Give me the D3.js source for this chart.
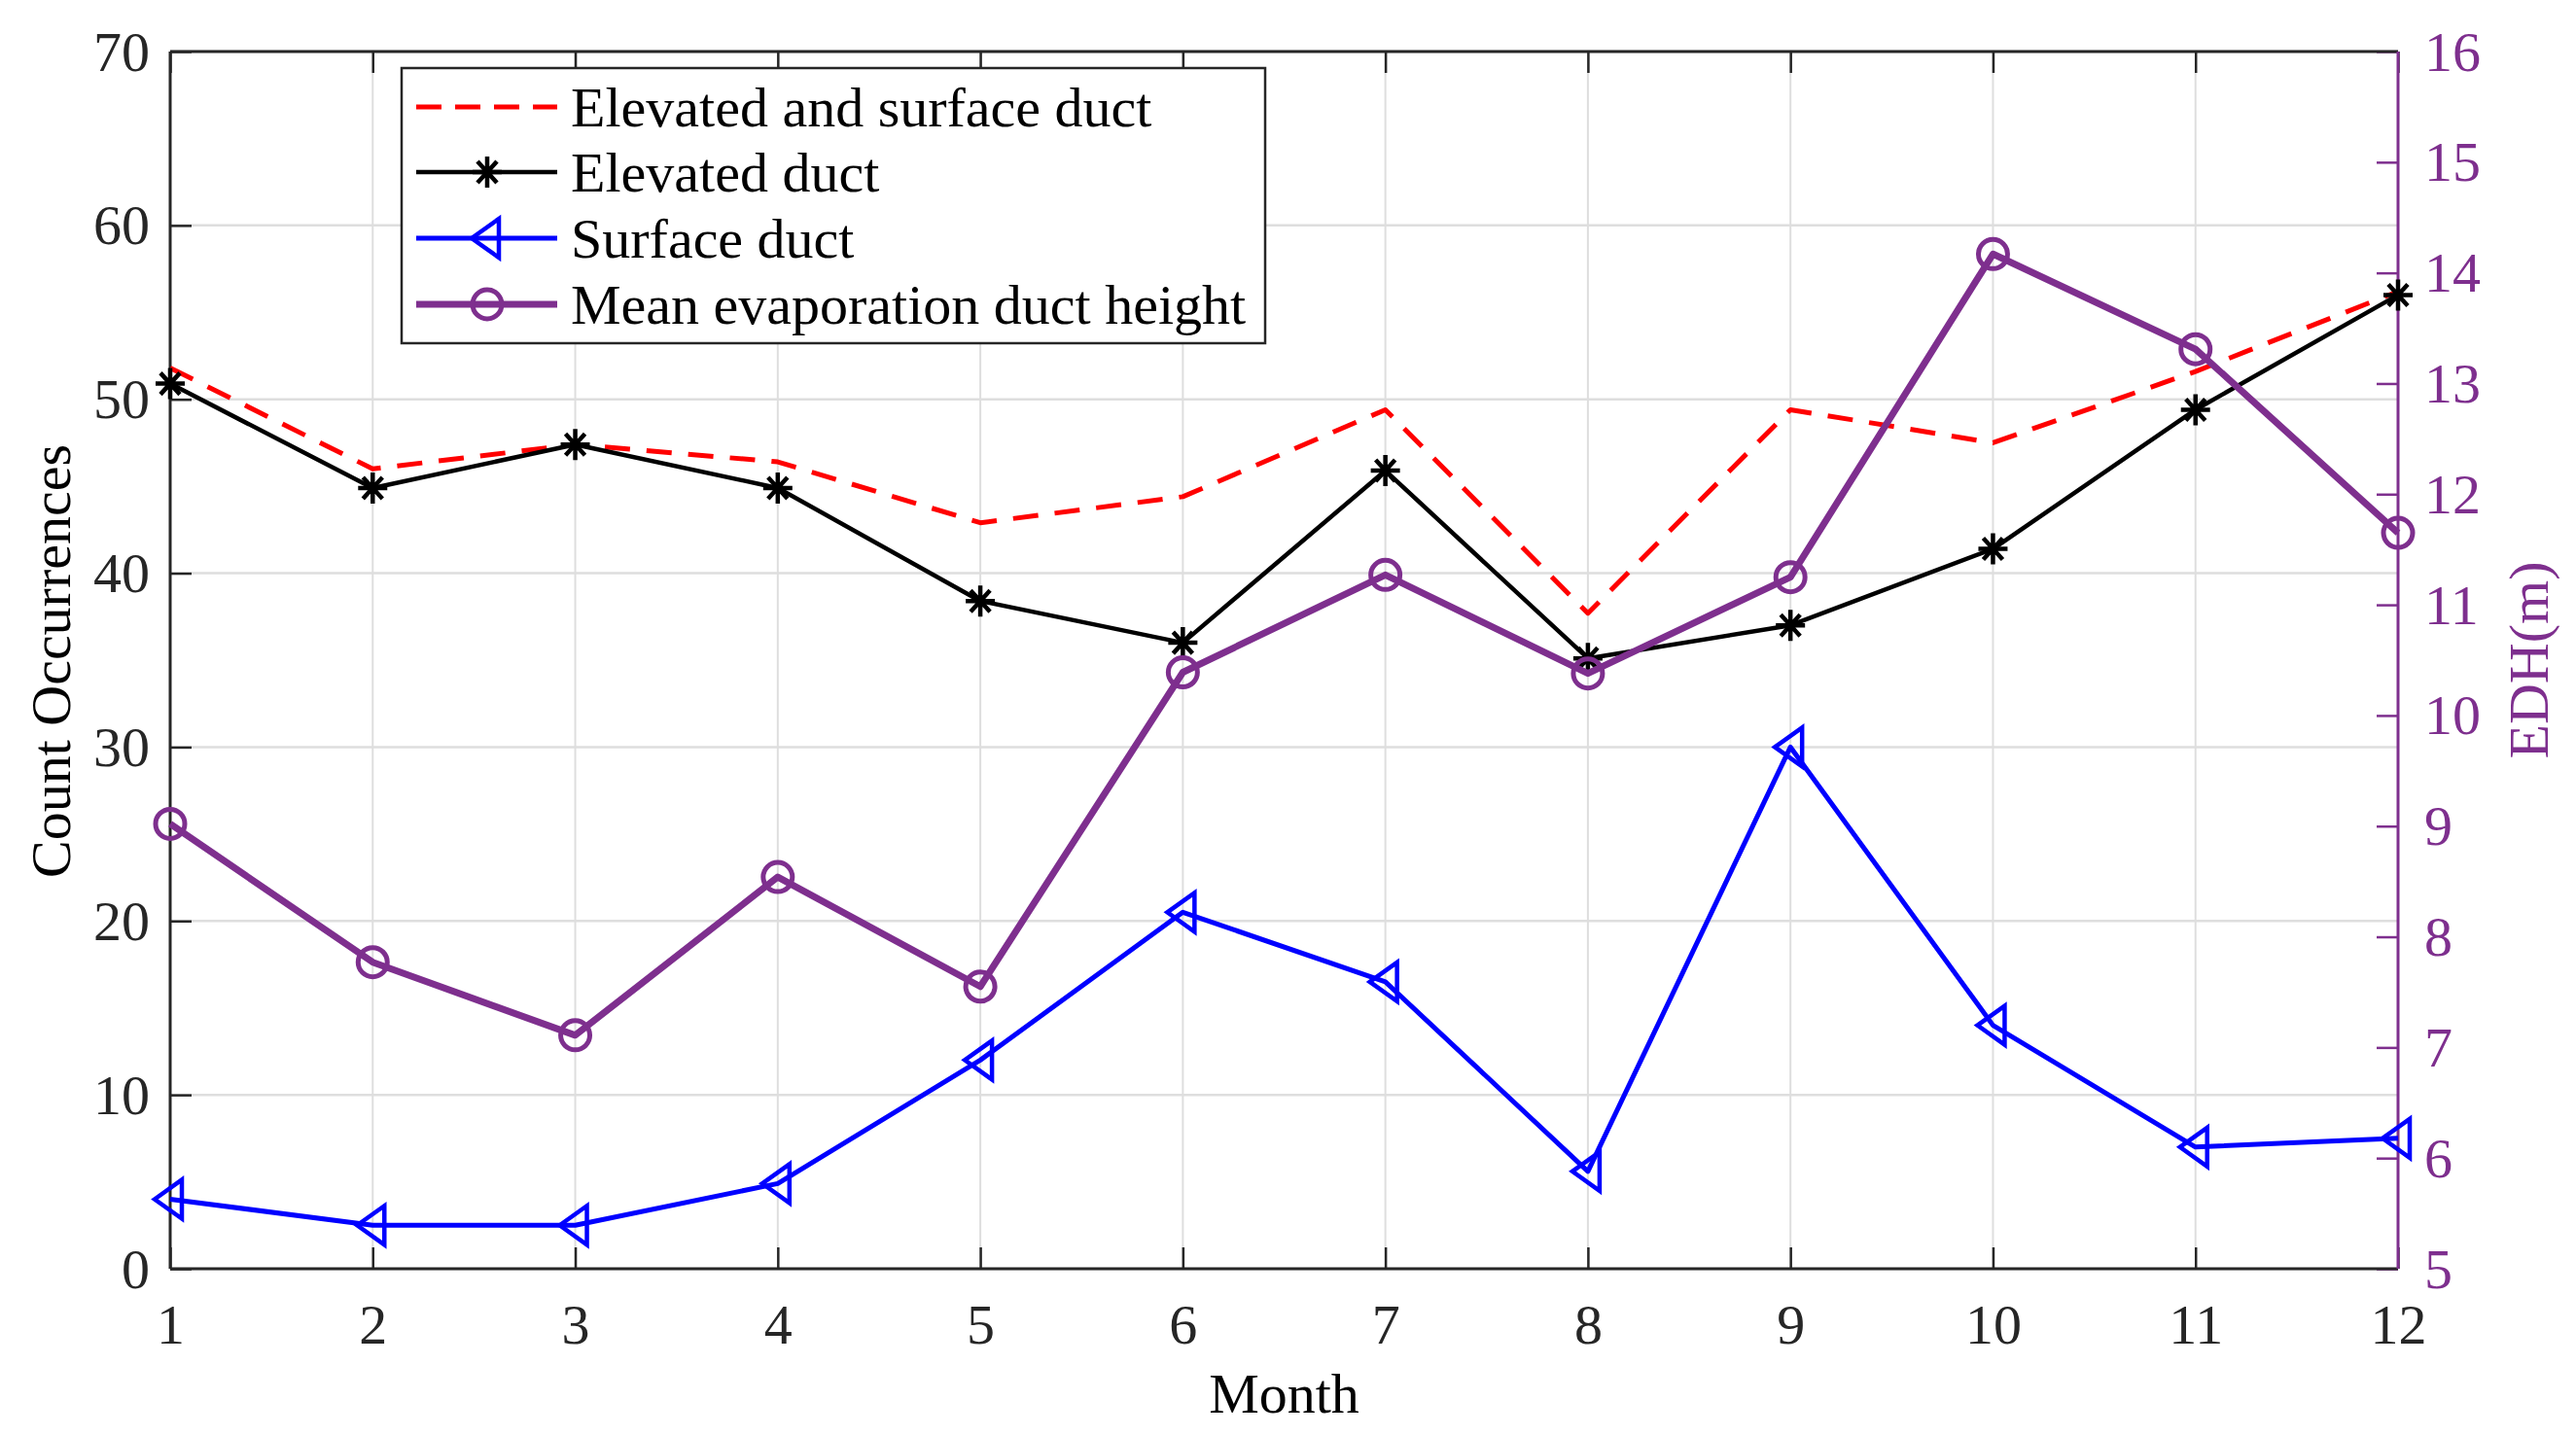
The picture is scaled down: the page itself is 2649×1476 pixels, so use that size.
<!DOCTYPE html>
<html><head><meta charset="utf-8">
<script src="https://cdn.jsdelivr.net/npm/d3@7"></script>
<style>body{margin:0;background:#fff}svg{display:block}</style>
</head><body>
<script>
const months = [1,2,3,4,5,6,7,8,9,10,11,12];
const elevSurf = [51.8,46.0,47.4,46.4,42.9,44.4,49.4,37.7,49.4,47.5,51.6,56.2];
const elevated = [50.9,44.9,47.4,44.9,38.4,36.0,45.9,35.1,37.0,41.4,49.4,56.0];
const surface = [4.0,2.5,2.5,4.9,12.0,20.5,16.5,5.6,30.0,14.0,7.0,7.5];
const edh = [9.02,7.77,7.11,8.54,7.55,10.39,11.27,10.38,11.25,14.17,13.31,11.65];
const leftTicks = [0,10,20,30,40,50,60,70];
const rightTicks = [5,6,7,8,9,10,11,12,13,14,15,16];
const legendNames = ["Elevated and surface duct","Elevated duct","Surface duct","Mean evaporation duct height"];

const W=2649,H=1476;
const L=175,R=2466,T=53,B=1305;
const FONT='"Liberation Serif","Times New Roman",serif';
const AX='#262626', PURPLE='#7E2F8E';

const svg=d3.select('body').append('svg').attr('width',W).attr('height',H);
svg.append('rect').attr('width',W).attr('height',H).attr('fill','#fff');

const x=d3.scaleLinear().domain([1,12]).range([L,R]);
const yL=d3.scaleLinear().domain([0,70]).range([B,T]);
const yR=d3.scaleLinear().domain([5,16]).range([B,T]);

// grid
const grid=svg.append('g');
grid.selectAll('.gx').data(months).enter().append('line')
  .attr('x1',d=>x(d)).attr('x2',d=>x(d)).attr('y1',T).attr('y2',B)
  .attr('stroke','#dedede').attr('stroke-width',2);
grid.selectAll('.gy').data(leftTicks).enter().append('line')
  .attr('x1',L).attr('x2',R).attr('y1',d=>yL(d)).attr('y2',d=>yL(d))
  .attr('stroke','#dedede').attr('stroke-width',2.5);

// axes
function styleAxis(g,color){
  g.select('.domain').remove();
  g.selectAll('line').attr('stroke',color).attr('stroke-width',2.5);
  g.selectAll('text').attr('fill',color).style('font-family',FONT).style('font-size','58px');
}
const gb=svg.append('g').attr('transform',`translate(0,${B})`)
  .call(d3.axisBottom(x).tickValues(months).tickSize(-22).tickFormat(d3.format('d')));
styleAxis(gb,AX);
gb.selectAll('text').attr('y',77).attr('dy',null);
const gt=svg.append('g').attr('transform',`translate(0,${T})`)
  .call(d3.axisTop(x).tickValues(months).tickSize(-22).tickFormat(''));
styleAxis(gt,AX);
const gl=svg.append('g').attr('transform',`translate(${L},0)`)
  .call(d3.axisLeft(yL).tickValues(leftTicks).tickSize(-22).tickFormat(d3.format('d')));
styleAxis(gl,AX);
gl.selectAll('text').attr('x',-21).attr('dy',null).attr('y',19);
const gr=svg.append('g').attr('transform',`translate(${R},0)`)
  .call(d3.axisRight(yR).tickValues(rightTicks).tickSize(-22).tickFormat(d3.format('d')));
styleAxis(gr,PURPLE);
gr.selectAll('text').attr('x',27).attr('dy',null).attr('y',19);

// frame
svg.append('line').attr('x1',L).attr('x2',R).attr('y1',T).attr('y2',T).attr('stroke',AX).attr('stroke-width',3);
svg.append('line').attr('x1',L).attr('x2',R).attr('y1',B).attr('y2',B).attr('stroke',AX).attr('stroke-width',3);
svg.append('line').attr('x1',L).attr('x2',L).attr('y1',T).attr('y2',B).attr('stroke',AX).attr('stroke-width',3);
svg.append('line').attr('x1',R).attr('x2',R).attr('y1',T).attr('y2',B).attr('stroke',PURPLE).attr('stroke-width',3);

// axis labels
svg.append('text').attr('transform',`translate(72,680) rotate(-90)`).attr('text-anchor','middle')
  .style('font-family',FONT).style('font-size','58px').attr('fill','#000').text('Count Occurrences');
svg.append('text').attr('transform',`translate(2620,679) rotate(-90)`).attr('text-anchor','middle')
  .style('font-family',FONT).style('font-size','58px').attr('fill',PURPLE).text('EDH(m)');
svg.append('text').attr('x',(L+R)/2).attr('y',1453).attr('text-anchor','middle')
  .style('font-family',FONT).style('font-size','58px').attr('fill','#000').text('Month');

// markers
const star='M-15,0L15,0M0,-16L0,16M-10,-11L10,11M-10,11L10,-11';
const tri='M-16,0L12,-20L12,20Z';
function drawMarker(g,type,cx,cy,color){
  if(type==='star') g.append('path').attr('d',star).attr('transform',`translate(${cx},${cy})`).attr('stroke',color).attr('stroke-width',4.5).attr('fill','none');
  else if(type==='tri') g.append('path').attr('d',tri).attr('transform',`translate(${cx},${cy})`).attr('stroke',color).attr('stroke-width',4.5).attr('fill','none').attr('stroke-linejoin','miter');
  else if(type==='circ') g.append('circle').attr('cx',cx).attr('cy',cy).attr('r',15).attr('stroke',color).attr('stroke-width',5).attr('fill','none');
}
const series=[
  {data:elevSurf,y:yL,color:'#FF0000',w:5,dash:'26,17',marker:null},
  {data:elevated,y:yL,color:'#000000',w:4.5,dash:null,marker:'star'},
  {data:surface,y:yL,color:'#0000FF',w:5,dash:null,marker:'tri'},
  {data:edh,y:yR,color:PURPLE,w:7,dash:null,marker:'circ'}
];
const plot=svg.append('g');
series.forEach(s=>{
  const line=d3.line().x((d,i)=>x(months[i])).y(d=>s.y(d));
  plot.append('path').datum(s.data).attr('d',line).attr('fill','none')
    .attr('stroke',s.color).attr('stroke-width',s.w).attr('stroke-dasharray',s.dash)
    .attr('stroke-linejoin','round');
  if(s.marker) s.data.forEach((d,i)=>drawMarker(plot,s.marker,x(months[i]),s.y(d),s.color));
});

// legend
const lg=svg.append('g');
lg.append('rect').attr('x',413).attr('y',70).attr('width',888).attr('height',283)
  .attr('fill','#fff').attr('stroke',AX).attr('stroke-width',2.5);
const rowY=[110,177,245,313];
series.forEach((s,i)=>{
  lg.append('line').attr('x1',428).attr('x2',573).attr('y1',rowY[i]).attr('y2',rowY[i])
    .attr('stroke',s.color).attr('stroke-width',s.w).attr('stroke-dasharray',s.dash?'26,14':null);
  if(s.marker) drawMarker(lg,s.marker,501,rowY[i],s.color);
  lg.append('text').attr('x',587).attr('y',rowY[i]+20).style('font-family',FONT).style('font-size','58px')
    .attr('fill','#000').text(legendNames[i]);
});
</script>
</body></html>
